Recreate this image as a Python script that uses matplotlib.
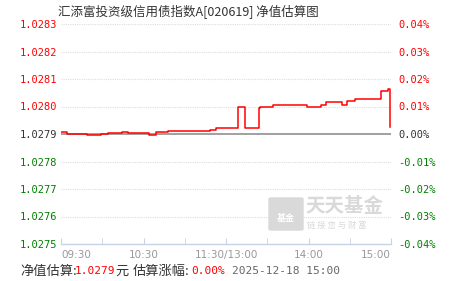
import matplotlib
matplotlib.use('Agg')
import matplotlib.pyplot as plt
from matplotlib.patches import FancyBboxPatch

plt.rcParams['font.family'] = ['Noto Sans CJK SC', 'DejaVu Sans']

# 估算净值 (分钟, 净值) 阶梯点
minutes = [0, 4, 19, 29, 34, 44, 49, 64, 69, 78, 108, 113, 129, 134, 144, 145,
           154, 160, 164, 169, 179, 184, 189, 193, 204, 208, 214, 233, 238, 239]
navs = [1.027906, 1.027899, 1.027895, 1.027899, 1.027903, 1.027906, 1.027903,
        1.027897, 1.027906, 1.027911, 1.027916, 1.027921, 1.027998, 1.027921,
        1.027995, 1.027998, 1.028005, 1.028007, 1.028004, 1.028007, 1.027997,
        1.028000, 1.028007, 1.028015, 1.028005, 1.028019, 1.028027, 1.028057,
        1.028064, 1.027927]

base_nav = 1.0279
y_ticks = [1.0275, 1.0276, 1.0277, 1.0278, 1.0279, 1.0280, 1.0281, 1.0282, 1.0283]
pct_labels = ['-0.04%', '-0.03%', '-0.02%', '-0.01%', '0.00%', '0.01%', '0.02%', '0.03%', '0.04%']
x_major = [0, 60, 120, 180, 240]
x_labels = ['09:30', '10:30', '11:30/13:00', '14:00', '15:00']
x_minor = [30, 90, 150, 210]

title = '汇添富投资级信用债指数A[020619] 净值估算图'
nav_text = '1.0279'
pct_text = '0.00%'
date_text = '2025-12-18 15:00'

W, H = 451, 281
fig = plt.figure(figsize=(W / 100, H / 100), dpi=100)
ax = fig.add_axes([61 / W, 37 / H, 330 / W, 220 / H])

def col(v):
    if v > base_nav + 1e-9:
        return 'red'
    if v < base_nav - 1e-9:
        return 'green'
    return '#333333'

# 网格
for v in y_ticks:
    if v == base_nav:
        ax.axhline(v, color='#999999', lw=1.3, zorder=2)
    elif v != y_ticks[0]:
        ax.axhline(v, color='#dddddd', lw=0.8, ls=(0, (1, 1)), zorder=1)

ax.plot(minutes, navs, color='red', lw=1.1, drawstyle='steps-post', zorder=3)

ax.set_xlim(0, 240)
ax.set_ylim(y_ticks[0], y_ticks[-1])
for s in ['top', 'right', 'left']:
    ax.spines[s].set_visible(False)
ax.spines['bottom'].set_color('#c5d3e3')
ax.spines['bottom'].set_linewidth(1.0)

ax.set_yticks(y_ticks)
ax.set_yticklabels(['%.4f' % v for v in y_ticks], family='DejaVu Sans Mono', fontsize=7.5)
for lab, v in zip(ax.get_yticklabels(), y_ticks):
    lab.set_color(col(v))
ax.tick_params(axis='y', length=0, pad=3)

ax2 = ax.twinx()
ax2.set_ylim(y_ticks[0], y_ticks[-1])
ax2.set_yticks(y_ticks)
ax2.set_yticklabels(pct_labels, family='DejaVu Sans Mono', fontsize=7.5)
for lab, v in zip(ax2.get_yticklabels(), y_ticks):
    lab.set_color(col(v))
ax2.tick_params(axis='y', length=0, pad=5)
for s in ['top', 'right', 'left', 'bottom']:
    ax2.spines[s].set_visible(False)

ax.set_xticks(x_major)
ax.set_xticklabels(x_labels, fontsize=7.5, color='#999999', family='DejaVu Sans')
ax.set_xticks(x_minor, minor=True)
ax.tick_params(axis='x', which='both', direction='in', length=4, color='#c5d3e3', pad=4)
xl = ax.get_xticklabels()
xl[0].set_ha('left')
xl[-1].set_ha('right')

fig.text(58 / W, 1 - 12 / H, title, fontsize=9, color='#333333', ha='left', va='center')

# 水印
wm = FancyBboxPatch((271 / W, 1 - 229 / H), 30 / W, 30 / H, boxstyle='round,pad=0.006',
                    transform=fig.transFigure, fc='#d9d9d9', ec='none', zorder=0)
fig.patches.append(wm)
fig.text(286 / W, 1 - 219 / H, '基金', fontsize=6.5, color='white', ha='center', va='center', weight='bold')
fig.text(305 / W, 1 - 206 / H, '天天基金', fontsize=14, color='#d9d9d9', ha='left', va='center', weight='bold')
fig.text(307 / W, 1 - 225 / H, '链 接 您 与 财 富', fontsize=6, color='#d9d9d9', ha='left', va='center')

# 底部信息
ty = 1 - 271 / H
fig.text(20 / W, ty, '净值估算:', fontsize=9.5, color='#333333', va='center')
fig.text(75 / W, ty, nav_text, fontsize=8, color='red', va='center', family='DejaVu Sans Mono')
fig.text(115 / W, ty, '元', fontsize=9.5, color='#333333', va='center')
fig.text(133 / W, ty, '估算涨幅:', fontsize=9.5, color='#333333', va='center')
fig.text(191 / W, ty, pct_text, fontsize=8, color='red', va='center', family='DejaVu Sans Mono')
fig.text(232 / W, ty, date_text, fontsize=8, color='#666666', va='center', family='DejaVu Sans Mono')

fig.savefig('out.png', dpi=100)
